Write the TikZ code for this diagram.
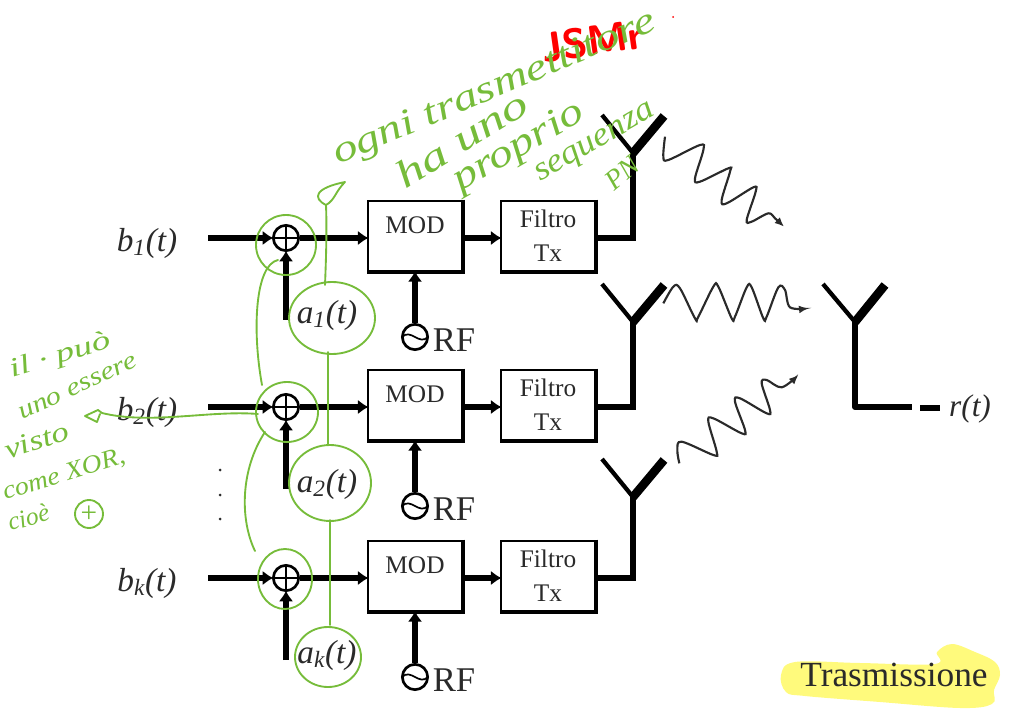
\documentclass[tikz,border=0pt]{standalone}
\usepackage{fontspec}
\setmainfont{Liberation Serif}
\usetikzlibrary{arrows.meta,calc}
\definecolor{hand}{HTML}{76BC3A}
\definecolor{hilite}{HTML}{FFFA7C}
\definecolor{ink}{HTML}{2A2A2A}
\tikzset{
  blockbox/.style={draw=black,line width=1.6pt,fill=white,minimum width=70pt,minimum height=53pt,inner sep=0pt,text=ink,font=\fontsize{19}{25.5}\selectfont,align=center},
  wire/.style={line width=4.4pt,black},
  thinwire/.style={line width=3.8pt,black,line join=miter},
  flow/.style={wire,-{Latex[length=8pt,width=11pt]},shorten >=-1pt},
  xorsym/.style={circle,draw=black,line width=2pt,fill=white,minimum size=19pt,inner sep=0pt},
  oscsym/.style={circle,draw=black,line width=2pt,fill=white,minimum size=19pt,inner sep=0pt},
  armthin/.style={line width=3.2pt,black},
  armthick/.style={line width=6.5pt,black},
  wave/.style={line width=1.6pt,ink,-{Latex[length=7pt,width=6pt]}},
  siglabel/.style={font=\fontsize{25}{28}\selectfont\itshape,text=ink,inner sep=0pt},
  rflabel/.style={font=\fontsize{26}{28}\selectfont,text=ink,inner sep=0pt},
  handline/.style={draw=hand,line width=1.4pt,line cap=round},
  handtext/.style={text=hand,font=\itshape,inner sep=0pt,anchor=base west},
}
\begin{document}
\begin{tikzpicture}[x=0.75pt,y=-0.75pt]
\useasboundingbox (0,0) rectangle (1030,712);
% highlight
\fill[hilite] plot[smooth cycle,tension=0.6] coordinates {(781,675) (795,662) (860,663) (935,664) (937,652) (952,644) (975,652) (995,662) (1000,675) (994,690) (992,704) (960,708) (880,702) (805,696) (786,692)};
\node[font=\fontsize{26.5}{28}\selectfont,text=ink,inner sep=0pt] (tit) at (894,675) {Trasmissione};

% three transmit branches
\foreach \r/\y/\sub in {1/238/1,2/407/2,3/578/k}{
  \node[siglabel] (b\r) at (147,\y+5) {b\textsubscript{\sub}(t)};
  \coordinate (in\r) at (208,\y);
  \node[xorsym] (x\r) at (286,\y) {};
  \draw[line width=1.3pt] (x\r.north)--(x\r.south) (x\r.west)--(x\r.east);
  \node[blockbox] (m\r) at (415,\y-2) {\raisebox{17pt}{MOD}};
  \draw[line width=2.8pt] (m\r.north east)--(m\r.south east)--(m\r.south west);
  \node[blockbox] (f\r) at (548,\y-2) {Filtro\\Tx};
  \draw[line width=2.8pt] (f\r.north east)--(f\r.south east)--(f\r.south west);
  \node[oscsym] (o\r) at (415,\y+99) {};
  \draw[line width=1.3pt] ($(o\r.west)+(1,0)$) .. controls ($(o\r.center)+(-4,-9)$) and ($(o\r.center)+(4,9)$) .. ($(o\r.east)+(-1,0)$);
  \node[rflabel] (rf\r) at (454,\y+102) {RF};
  \node[siglabel] (a\r) at (327,\y+77) {a\textsubscript{\sub}(t)};
  \coordinate (al\r) at (286,\y+82);
  \draw[flow] (in\r) -- (x\r.west);
  \draw[flow] (x\r.east) -- (x\r.east -| m\r.west);
  \draw[flow] (al\r) -- (x\r.south);
  \draw[flow] (x\r.east -| m\r.east) -- (x\r.east -| f\r.west);
  \draw[flow] (o\r.north) -- (m\r.south);
}
% antennas
\foreach \r/\y/\t in {1/238/153,2/407/322,3/578/497}{
  \coordinate (ant\r) at (633,\t);
  \draw[thinwire] (f\r.east |- in\r) -- (633,\y) -- (ant\r);
  \draw[armthin] (ant\r) -- ++(-31,-38);
  \draw[armthick] (ant\r) -- ++(31,-37);
}
% receiver
\coordinate (rx) at (855,322);
\coordinate (rxl) at (855,407);
\coordinate (rxe) at (912,407);
\coordinate (d1) at (920,408);
\coordinate (d2) at (940,408);
\node[siglabel,font=\fontsize{23.5}{24}\selectfont\itshape] (rt) at (970,409) {r(t)};
\draw[line width=4.4pt,line join=round] (rx) -- (rxl) -- (rxe);
\draw[line width=4.4pt] (d1) -- (d2);
\draw[armthin] (rx) -- ++(-32,-38);
\draw[armthick] (rx) -- ++(30,-37);
% waves
\begin{scope}[shift={(590,100)},x=0.25pt,y=-0.25pt]
\draw[wave] plot[smooth,tension=0.55] coordinates {(225,110) (220,170) (235,180) (330,135) (340,150) (315,235) (330,245) (415,205) (420,215) (395,300) (410,310) (490,262) (497,275) (470,360) (485,365) (535,340) (555,355) (582,380)};
\draw[wave] plot[smooth,tension=0.55] coordinates {(220,610) (250,560) (270,565) (315,655) (325,650) (370,560) (385,560) (425,655) (435,650) (470,562) (485,562) (520,655) (530,650) (565,562) (585,570) (600,622) (655,625)};
\draw[wave] plot[smooth,tension=0.55] coordinates {(268,1090) (262,1050) (275,1025) (370,1065) (380,1055) (355,965) (370,955) (455,1000) (465,990) (435,905) (450,895) (530,940) (540,930) (515,850) (530,840) (575,862) (625,825)};
\end{scope}
% dots
\foreach \i/\yy in {1/470,2/495,3/519}{\fill[ink] (220,\yy) circle[radius=1.5];}

% red scribble
\node[text=red,font=\fontsize{31}{31}\selectfont\sffamily\bfseries,rotate=8,inner sep=0pt] (red) at (592,41) {JSMr};
\coordinate (rd) at (673,17);
\fill[red] (rd) circle[radius=1];

% handwritten notes
\node[handtext,font=\fontsize{28}{30}\selectfont\itshape,rotate=23] (n1) at (338,165) {\scalebox{1.3}[1]{ogni trasmettitore}};
\node[handtext,font=\fontsize{29}{30}\selectfont\itshape,rotate=32] (n2) at (405,190) {\scalebox{1.4}[1]{ha uno}};
\node[handtext,font=\fontsize{29}{30}\selectfont\itshape,rotate=30] (n3) at (460,192) {\scalebox{1.25}[1]{proprio}};
\node[handtext,font=\fontsize{25}{30}\selectfont\itshape,rotate=30] (n4) at (540,182) {\scalebox{1.1}[1]{sequenza}};
\node[handtext,font=\fontsize{21}{24}\selectfont\itshape,rotate=40] (n5) at (614,192) {PN};

\node[handtext,font=\fontsize{20}{24}\selectfont\itshape,rotate=17] (l1) at (12,378) {\scalebox{1.4}[1]{il · può}};
\node[handtext,font=\fontsize{19}{24}\selectfont\itshape,rotate=25] (l2) at (22,420) {\scalebox{1.2}[1]{uno essere}};
\node[handtext,font=\fontsize{21}{24}\selectfont\itshape,rotate=19] (l3) at (8,460) {\scalebox{1.25}[1]{visto}};
\node[handtext,font=\fontsize{19}{24}\selectfont\itshape,rotate=17] (l4) at (5,500) {\scalebox{1.1}[1]{come XOR,}};
\node[handtext,font=\fontsize{19}{24}\selectfont\itshape,rotate=15] (l5) at (10,531) {cioè};
\node[circle,draw=hand,line width=1.4pt,text=hand,minimum size=21pt,inner sep=0pt,font=\fontsize{22}{22}\selectfont] (l6) at (89,514) {+};

% green rings
\draw[handline] (x1) ++(0,7) ellipse[x radius=30,y radius=30];
\draw[handline] (x2) ++(1,5) ellipse[x radius=31,y radius=30];
\draw[handline] (x3) ++(-1,1) ellipse[x radius=27,y radius=30];
\draw[handline] (a1) ++(5,3) ellipse[x radius=43,y radius=36];
\draw[handline] (a2) ++(3,-1) ellipse[x radius=41,y radius=38];
\draw[handline] (a3) ++(1,2) ellipse[x radius=33,y radius=30];
% green links
\coordinate (ga1) at (278,260);
\coordinate (ga2) at (262,385);
\coordinate (gb1) at (265,432);
\coordinate (gb2) at (255,551);
\draw[handline] (ga1) .. controls (255,265) and (252,330) .. (ga2);
\draw[handline] (gb1) .. controls (240,470) and (240,520) .. (gb2);
\coordinate (tp) at (326,205);
\draw[handline] (325,285) .. controls (326,260) and (327,230) .. (tp);
\draw[handline] (328,352) -- (328,445);
\draw[handline] (330,520) -- (330,625);
% arrowhead at the top
\draw[handline,line join=round] (tp) .. controls (312,198) and (315,188) .. (345,182) .. controls (335,192) and (335,200) .. (tp);
% arrow to the left note
\coordinate (gl) at (258,414);
\coordinate (gh) at (102,413);
\draw[handline] (gl) .. controls (210,410) and (150,425) .. (gh);
\draw[handline,line join=round] (gh) -- (98,410) -- (85,416) -- (97,422) -- (100,414);
\end{tikzpicture}
\end{document}
